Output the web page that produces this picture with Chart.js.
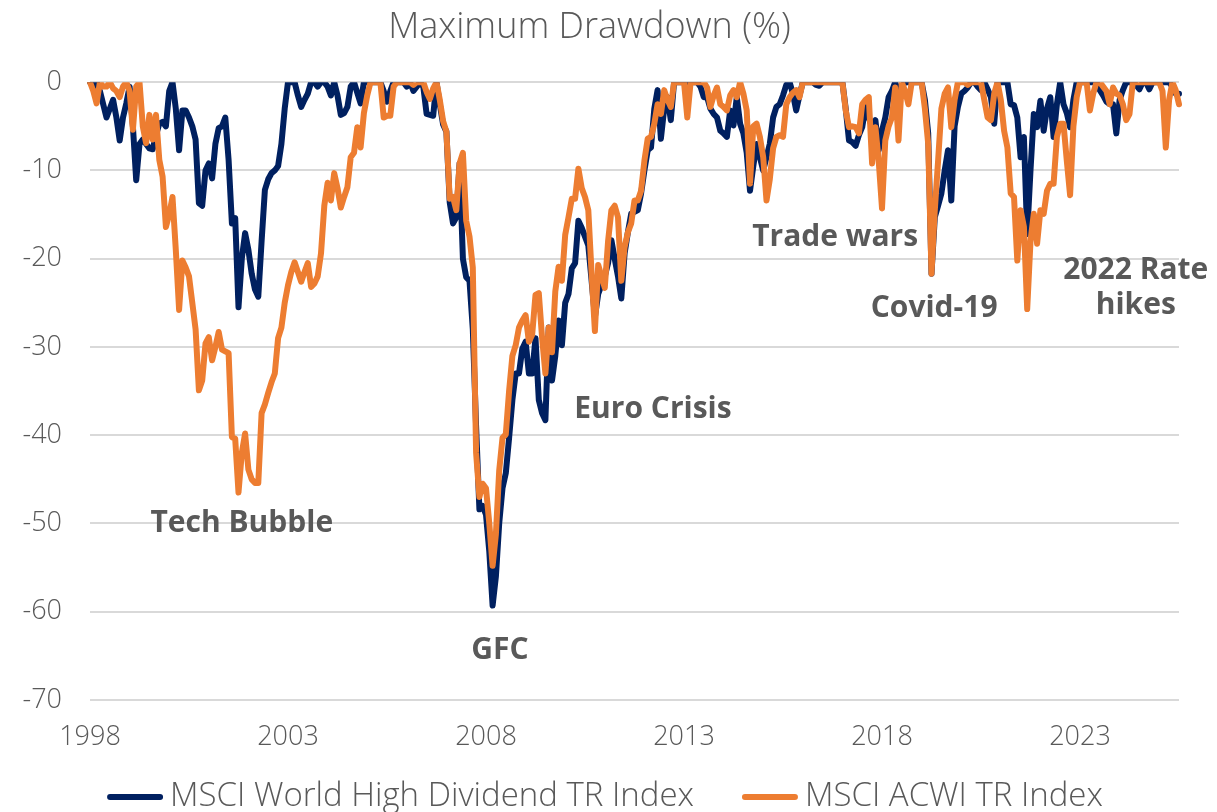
<!DOCTYPE html>
<html>
<head>
<meta charset="utf-8">
<script src="https://cdn.jsdelivr.net/npm/chart.js@4.4.1/dist/chart.umd.min.js"></script>
<style>
    body { margin: 0; background: #fff; }
    #wrap { width: 1217px; height: 812px; position: relative; }
</style>
</head>
<body>
<div id="wrap"><canvas id="drawdownChart"></canvas></div>
<script>
// monthly drawdown (%) from Jan 1998
const hdDrawdown = [
    0, -0.5, 0, -1, -2.5, -4, -3, -2, -4, -6.6, -4, -2.4,
    -0.5, -5, -11.1, -7, -6.5, -7, -7.5, -7.6, -6, -4.7, -4.5, -5,
    -1, 0, -3, -7.7, -3.2, -3.2, -4, -5, -6.5, -13.7, -14, -10,
    -9.2, -10.9, -7, -5.2, -5, -4, -8.8, -16, -15.4, -25.5, -20, -17.1,
    -19, -21.7, -23.5, -24.3, -18, -12.2, -11, -10.3, -10, -9.5, -7, -3,
    0, 0, 0, -1.5, -2.8, -2, -1.3, 0, 0, -0.5, 0, 0,
    -0.5, -1.5, 0, -1.5, -3.7, -3.5, -2.8, -0.5, 0, -1.2, -2.4, 0,
    0, 0, 0, 0, 0, -1, -2.2, -1, 0, 0, 0, 0,
    -0.5, 0, -1, -0.5, 0, -0.5, -3.6, -3.7, -3.8, 0, -2.5, -4.8,
    -5.6, -13.6, -16, -15.3, -9.2, -20, -22.1, -22.5, -28, -39, -48.4, -48,
    -49, -53.2, -59.3, -56, -50, -46, -44.3, -40.3, -36, -33, -33, -30.2,
    -29.4, -33, -33, -29, -36, -37.5, -38.3, -27.8, -33.8, -31, -27, -29.8,
    -25, -24, -21.1, -20.5, -15.7, -16.5, -17.5, -18.5, -22.5, -26.6, -24, -23,
    -22, -20.5, -17.9, -20, -22, -24.5, -19.4, -17, -14.9, -14.7, -14.5, -12.6,
    -10, -7.7, -7.4, -3, -0.9, -6.4, -3, -1.7, -4.3, 0, 0, 0,
    0, 0, 0, 0, 0, -0.5, -1.7, -1.7, -3, -3.6, -4, -5.5,
    -5.8, -6.2, -3.2, -4.9, -1.7, -4.7, -5.8, -8, -12.3, -9.5, -7, -8.5,
    -10, -8.5, -7, -4, -2.8, -2.5, -1.5, -0.3, 0, -1.3, -3.2, -1.5,
    0, 0, 0, 0, -0.3, -0.4, 0, 0, 0, 0, 0, 0,
    0, -3, -6.6, -6.8, -7.2, -6, -5.1, -2.8, -4, -5.1, -4.3, -7.7,
    -5.5, -4, -1.7, -1, 0, -1.3, -0.5, 0, 0, 0, 0, 0,
    0, -2, -5.8, -21.7, -15.3, -14, -12.6, -10, -7.7, -13.4, -5, -2.8,
    -1.3, -1, -0.6, 0, 0, -0.5, -0.9, 0, -0.8, -1.7, -4.7, 0,
    0, 0, 0, -2.5, -2.6, -4, -8.5, -6.2, -17.2, -10, -3.6, -5.1,
    -2.1, -5.5, -3, -1.7, -6.2, -2.5, 0, -2.5, -3.5, -5.1, -2, 0,
    0, 0, 0, 0, 0, 0, -0.9, -1.5, -2.2, -2.5, -2.5, -5.8,
    -2, -0.9, 0, 0, 0, -0.3, -0.8, 0, 0, -0.8, 0, 0,
    0, 0, 0, 0, -0.5, -1.3, -1.3
];

const acwiDrawdown = [
    0, -1, -2.4, 0, -0.5, -0.5, 0, -0.7, -1, -1.7, -0.5, 0,
    -1, -5.4, -0.5, 0, -5, -6.9, -3.7, -6.5, -3.7, -8.8, -10.7, -16.4,
    -15, -13, -19, -25.8, -20.2, -21, -22, -25, -28, -34.9, -33.8, -29.6,
    -28.9, -31.5, -30, -28.3, -30.3, -30.5, -30.7, -40.2, -40.4, -46.5, -42, -39.8,
    -43.9, -45, -45.4, -45.4, -37.5, -36.5, -35.2, -34, -33, -29, -27.8, -25,
    -23, -21.5, -20.4, -21.5, -22.6, -21.5, -20.5, -23.2, -22.8, -22, -19.4, -14,
    -11.4, -13.4, -10.3, -12, -14.2, -13, -11.9, -8.5, -8, -5.1, -7.4, -3.5,
    -1.5, 0, 0, 0, 0, -4, -3.8, -3.8, -0.5, 0, 0, 0,
    0, 0, -0.3, 0, 0, 0, -1.1, -1.9, -0.7, 0, -2, -4.4,
    -5.6, -13.2, -13, -14.5, -9.2, -8, -15.7, -17.5, -21, -42, -47, -45.5,
    -46, -50, -54.8, -51.2, -44, -40.3, -39.9, -35, -31, -29.8, -27.8, -27,
    -26.4, -29.4, -28.6, -24.1, -23.9, -29, -33, -27.8, -30.6, -23.7, -20.9, -22.5,
    -17.3, -15.3, -13.2, -13.2, -9.8, -12, -13, -14.5, -21.7, -28.2, -20.7, -22,
    -23.3, -18, -14.5, -14, -15.3, -22.5, -18.7, -17, -16, -13.4, -13.4, -12.3,
    -8.9, -6.4, -6.2, -4.7, -2.5, -3.6, -0.9, -2, -2.8, 0, 0, 0,
    0, -4, 0, 0, 0, 0, 0, -0.6, -2.8, -1.5, -0.6, -2.5,
    -2.8, -3.2, -1.5, -0.9, -1.7, 0, -1.3, -3.2, -11.5, -5, -4.7, -6.2,
    -8.5, -13.4, -11, -7.5, -6.2, -6, -6.2, -2.5, -1.7, -1.2, -0.9, -1.7,
    0, 0, 0, 0, 0, 0, 0, 0, 0, 0, 0, 0,
    0, -3.2, -5.1, -5, -5.1, -5.8, -2.5, -2, -1.7, -9.2, -5.1, -8.9,
    -14.3, -6.6, -5, -4, -0.6, -6.6, 0, -1, -2.5, 0, 0, 0,
    0, -3, -7, -21.7, -14.5, -8.9, -3, -1.3, -0.6, -5.1, -2, 0,
    0, 0, -0.3, 0, 0, 0, 0, -2, -4, -4.3, -1.3, 0,
    -2, -5.5, -7.4, -12.6, -13, -20.2, -14.5, -16.4, -25.7, -18, -14.9, -18.3,
    -14.5, -14.9, -12.3, -11.5, -11.5, -6.2, -4.7, -4.7, -8.9, -12.8, -5, -1.7,
    0, 0, 0, -3.2, -1.3, 0, 0, -0.5, -1, -2.5, -0.6, -1.3,
    -1.5, -2.5, -4.3, -3.6, 0, 0, 0, 0, 0, 0, 0, 0,
    0, -1, -7.4, -2, 0, -0.9, -2.5
];

const seriesNames = ["MSCI World High Dividend TR Index", "MSCI ACWI TR Index"];
const seriesColors = ["#002060", "#ED7D31"];
const yTicks = [0, -10, -20, -30, -40, -50, -60, -70];

// month labels "YYYY-MM"
const months = hdDrawdown.map((_, i) => {
    const y = 1998 + Math.floor(i / 12);
    const m = (i % 12) + 1;
    return y + "-" + (m < 10 ? "0" + m : m);
});

// event labels: month index, value
const events = [
    { lines: ["Tech Bubble"], at: 46, value: -50 },
    { lines: ["GFC"], at: 124.2, value: -64.4 },
    { lines: ["Euro Crisis"], at: 170.6, value: -37.1 },
    { lines: ["Trade wars"], at: 225.8, value: -17.6 },
    { lines: ["Covid-19"], at: 255.8, value: -25.6 },
    { lines: ["2022 Rate", "hikes"], at: 316.9, value: -21.3 }
];

const grey = "#595959";
const lightFont = "300 33px 'Open Sans', sans-serif";

const eventLabels = {
    id: "eventLabels",
    afterDatasetsDraw(chart) {
        const { ctx, scales } = chart;
        ctx.save();
        ctx.font = "700 30px 'Open Sans', sans-serif";
        ctx.fillStyle = grey;
        ctx.textAlign = "center";
        ctx.textBaseline = "middle";
        events.forEach(ev => {
            const x = scales.x.getPixelForValue(ev.at);
            const y = scales.y.getPixelForValue(ev.value);
            ev.lines.forEach((t, k) => ctx.fillText(t, x, y + k * 35));
        });
        ctx.restore();
    }
};

// legend drawn by hand so the line markers and spacing match
const bottomLegend = {
    id: "bottomLegend",
    afterDraw(chart) {
        const { ctx } = chart;
        const lineLen = 56, gapText = 7, gapItem = 48, y = 797;
        ctx.save();
        ctx.font = lightFont;
        const widths = seriesNames.map(n => ctx.measureText(n).width);
        let total = 0;
        widths.forEach((w, k) => { total += lineLen + gapText + w + (k ? gapItem : 0); });
        let x = 605 - total / 2;
        ctx.textBaseline = "middle";
        seriesNames.forEach((name, k) => {
            if (k) x += gapItem;
            ctx.strokeStyle = seriesColors[k];
            ctx.lineWidth = 6;
            ctx.lineCap = "round";
            ctx.beginPath();
            ctx.moveTo(x + 3, y);
            ctx.lineTo(x + lineLen - 3, y);
            ctx.stroke();
            x += lineLen + gapText;
            ctx.fillStyle = grey;
            ctx.fillText(name, x, y);
            x += widths[k];
        });
        ctx.restore();
    }
};

const ctx = document.getElementById("drawdownChart").getContext("2d");
new Chart(ctx, {
    type: "line",
    data: {
        labels: months,
        datasets: [
            {
                label: seriesNames[0],
                data: hdDrawdown,
                borderColor: seriesColors[0],
                borderWidth: 6,
                borderCapStyle: "round",
                borderJoinStyle: "round",
                pointRadius: 0,
                tension: 0,
                order: 1
            },
            {
                label: seriesNames[1],
                data: acwiDrawdown,
                borderColor: seriesColors[1],
                borderWidth: 6,
                borderCapStyle: "round",
                borderJoinStyle: "round",
                pointRadius: 0,
                tension: 0,
                order: 0
            }
        ]
    },
    options: {
        responsive: true,
        maintainAspectRatio: false,
        animation: false,
        layout: { padding: { left: 0, right: 38, top: 0, bottom: 50 } },
        plugins: {
            title: {
                display: true,
                text: "Maximum Drawdown (%)",
                color: grey,
                font: { family: "'Open Sans', sans-serif", size: 36, weight: 300 },
                padding: { top: 6, bottom: 33 }
            },
            legend: { display: false },
            tooltip: { enabled: false }
        },
        scales: {
            x: {
                grid: { display: false, drawTicks: false },
                border: { display: false },
                ticks: {
                    autoSkip: false,
                    maxRotation: 0,
                    padding: 21,
                    color: grey,
                    font: { family: "'Open Sans', sans-serif", size: 27, weight: 300 },
                    callback: function (value) {
                        const lab = this.getLabelForValue(value);
                        const yr = +lab.slice(0, 4);
                        if (lab.endsWith("-01") && (yr - 1998) % 5 === 0) return String(yr);
                        return "";
                    }
                },
                afterFit: scale => { scale.height = 62; }
            },
            y: {
                min: yTicks[yTicks.length - 1],
                max: yTicks[0],
                afterBuildTicks: scale => {
                    scale.ticks = yTicks.map(v => ({ value: v }));
                },
                grid: { color: "#D9D9D9", lineWidth: 2, drawTicks: false },
                border: { display: false },
                ticks: {
                    padding: 28,
                    color: grey,
                    font: { family: "'Open Sans', sans-serif", size: 27, weight: 300 }
                },
                afterFit: scale => { scale.width = 90; }
            }
        }
    },
    plugins: [eventLabels, bottomLegend]
});
</script>
</body>
</html>
